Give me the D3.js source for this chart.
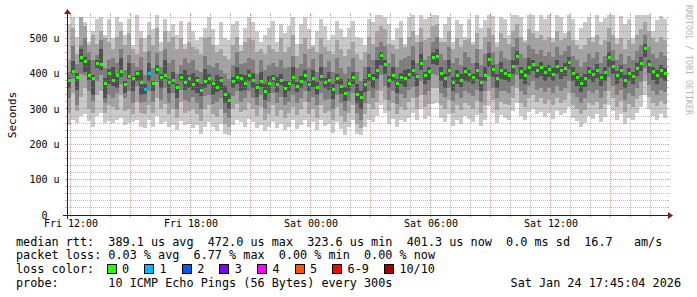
<!DOCTYPE html>
<html>
<head>
<meta charset="utf-8">
<script src="https://cdn.jsdelivr.net/npm/d3@7"></script>
<style>
  html, body { margin: 0; padding: 0; background: #fff; }
  svg { display: block; }
  text { font-family: "DejaVu Sans Mono", monospace; }
</style>
</head>
<body>
<div id="chart"></div>
<script>
// median rtt per 12 min step (us)
const med = [
  380,405,390,445,435,395,385,428,425,372,
  400,380,395,405,370,392,385,400,375,355,
  400,372,412,388,395,375,380,362,390,375,
  385,368,380,352,378,385,372,360,382,340,
  325,378,390,385,372,395,382,360,378,350,
  372,385,368,380,358,372,390,365,378,395,
  370,385,362,392,375,380,355,385,365,345,
  372,390,340,332,370,395,385,410,450,425,
  380,395,372,390,385,398,410,392,430,395,
  405,445,448,400,385,410,375,395,380,405,
  398,388,408,375,395,440,412,385,408,400,
  395,420,448,405,395,418,425,410,418,402,
  412,398,420,408,415,432,400,390,372,385,
  405,398,410,388,402,445,420,395,410,380,
  400,392,415,430,470,425,405,395,410,401
];
// smoke: sorted ping ranks (us)
const p1 = [
  255,270,260,280,285,265,250,280,290,260,
  265,260,270,275,255,260,262,270,250,245,
  270,250,280,258,262,248,255,240,265,255,
  258,245,255,230,250,262,248,238,258,228,
  225,255,268,262,250,272,262,245,255,238,
  250,262,245,258,240,250,268,242,255,270,
  248,262,240,270,252,258,232,262,242,225,
  248,268,228,225,250,270,262,280,310,290,
  258,272,250,268,262,275,288,270,300,272,
  280,315,318,275,262,285,252,270,258,280,
  272,262,282,252,270,308,288,260,282,275,
  270,295,318,280,270,292,300,285,292,278,
  288,272,295,282,290,305,275,265,250,260,
  280,272,285,262,278,312,295,270,285,258,
  275,268,290,305,340,300,280,270,285,275
];
const p2 = [
  290,345,295,335,360,300,290,340,350,290,
  310,305,298,340,295,300,285,320,290,285,
  310,290,330,300,315,285,300,275,320,290,
  295,300,285,265,300,310,285,278,300,258,
  250,300,315,292,298,318,300,280,305,270,
  285,310,280,298,275,290,305,282,300,320,
  285,300,275,310,290,295,268,305,280,262,
  290,310,258,245,285,315,300,320,350,325,
  295,318,285,305,298,320,330,300,340,305,
  315,360,360,310,300,325,290,310,298,318,
  310,300,322,290,312,350,325,298,320,315,
  310,330,360,318,305,330,340,320,330,315,
  325,310,330,318,325,345,312,300,285,298,
  318,310,320,300,315,352,330,305,322,292,
  315,305,328,340,380,335,318,308,322,315
];
const p3 = [
  330,385,310,400,395,350,322,378,395,318,
  340,330,345,372,330,352,318,365,318,320,
  350,320,375,325,360,318,345,300,355,325,
  320,335,318,300,338,340,315,320,332,290,
  275,338,350,320,330,352,330,310,340,300,
  320,345,318,335,310,320,340,318,330,352,
  320,335,312,345,325,328,300,340,318,295,
  322,345,290,270,318,352,330,355,395,365,
  325,350,315,342,330,355,362,335,380,340,
  350,398,395,345,335,360,322,345,330,352,
  345,338,355,320,350,392,360,330,352,350,
  345,365,395,352,340,365,378,355,360,348,
  360,345,365,352,360,380,345,335,318,330,
  350,345,355,332,350,390,365,340,355,325,
  345,338,360,375,415,368,350,340,355,348
];
const p4 = [
  358,398,355,432,405,382,340,415,410,330,
  372,365,360,390,345,385,350,380,340,342,
  380,350,400,360,385,345,372,330,378,355,
  360,355,345,338,360,370,340,348,355,318,
  300,360,372,350,355,378,358,335,362,325,
  345,375,348,368,335,350,372,348,360,380,
  350,362,340,378,358,355,328,370,342,322,
  352,372,318,300,348,378,360,385,425,398,
  358,380,345,372,362,385,392,365,410,372,
  382,428,425,378,360,392,350,372,362,380,
  375,370,385,350,378,420,390,360,385,382,
  375,398,425,385,370,395,408,388,392,378,
  390,378,398,385,392,412,378,365,348,362,
  385,375,388,365,380,420,398,372,388,358,
  378,370,392,408,448,402,382,372,388,380
];
const p7 = [
  388,435,402,470,448,440,395,440,470,388,
  412,420,400,445,378,430,392,408,410,370,
  430,380,425,398,440,385,405,370,398,410,
  395,402,390,372,412,398,380,395,390,365,
  345,390,420,398,395,410,402,372,405,370,
  392,395,390,400,380,380,420,375,392,410,
  380,410,375,418,388,405,372,400,385,362,
  385,405,370,350,385,418,400,440,462,440,
  392,420,385,402,410,412,440,400,455,405,
  418,460,470,420,398,440,390,410,398,420,
  410,400,430,390,420,458,425,398,432,412,
  405,440,465,420,410,445,440,422,432,418,
  425,415,440,420,430,448,418,402,390,400,
  420,410,428,400,418,462,435,408,425,395,
  415,405,430,448,485,440,420,410,425,415
];
const p8 = [
  405,478,428,482,500,460,440,452,495,415,
  440,445,430,470,410,452,430,420,448,395,
  465,415,458,420,470,430,440,398,425,445,
  430,440,410,405,450,425,418,430,410,398,
  385,425,460,428,430,445,440,400,440,410,
  425,430,420,440,415,420,450,415,428,455,
  415,442,405,455,420,435,405,445,415,398,
  420,445,405,380,420,455,440,475,490,478,
  430,455,418,440,445,450,478,430,490,438,
  450,490,505,455,440,475,430,445,425,460,
  448,430,470,425,455,490,460,428,465,445,
  440,475,500,455,445,480,470,455,468,450,
  460,448,475,452,465,478,450,438,420,432,
  455,445,462,430,450,490,468,440,455,428,
  450,440,465,480,510,475,455,445,460,450
];
const p9 = [
  440,530,455,560,535,480,510,485,520,500,
  490,470,505,520,480,515,470,455,500,460,
  510,480,530,465,520,490,505,470,500,470,
  490,475,470,455,500,505,480,460,470,450,
  440,480,505,465,490,500,495,460,470,455,
  480,470,460,500,460,475,510,450,485,500,
  470,475,460,500,475,465,455,495,470,450,
  470,490,455,440,460,505,485,520,535,525,
  485,480,470,500,475,505,520,490,530,495,
  500,535,540,490,490,520,470,500,475,495,
  498,480,515,470,505,530,510,475,515,500,
  485,520,540,505,490,525,515,500,510,495,
  505,490,520,495,500,520,495,480,470,480,
  500,490,510,480,495,530,510,485,500,470,
  495,485,510,525,545,520,500,490,505,495
];
const p10 = [
  540,560,505,560,545,490,520,555,560,510,
  555,500,560,545,510,555,480,565,520,500,
  545,525,565,490,555,520,540,510,550,485,
  545,520,495,505,530,560,525,480,545,500,
  495,540,550,480,530,560,545,520,490,510,
  530,550,490,540,515,535,560,485,540,560,
  525,480,520,555,535,495,510,550,525,505,
  530,550,505,500,480,555,545,565,565,560,
  540,495,530,550,485,560,565,510,565,555,
  560,565,565,500,540,560,490,552,540,505,
  555,490,565,530,552,565,562,490,560,555,
  510,565,565,560,495,565,565,520,565,555,
  565,500,565,560,515,565,555,495,530,545,
  560,505,565,545,558,565,565,500,562,540,
  555,500,565,565,565,565,520,552,562,555
];
// lost pings out of 10 per step
const loss = [
  0,0,0,0,0,0,0,0,0,0, 0,0,0,0,0,0,0,0,0,1,
  1,0,0,0,0,0,0,0,0,0, 0,0,0,0,0,0,0,0,0,0,
  0,0,0,0,0,0,0,0,0,0, 0,0,0,0,0,0,0,0,0,0,
  0,0,0,0,0,0,0,0,0,0, 0,0,0,0,0,0,0,0,0,0,
  0,0,0,0,0,0,0,0,0,0, 0,0,0,0,0,0,0,0,0,0,
  0,0,0,0,0,0,0,0,0,0, 0,0,0,0,0,0,0,0,0,0,
  0,0,0,0,0,0,0,0,0,0, 0,0,0,0,0,0,0,0,0,0,
  0,0,0,0,0,0,0,0,0,0
];

const yTicks = [0, 100, 200, 300, 400, 500];
const yMax = 566;
const lossLabels = ["0", "1", "2", "3", "4", "5", "6-9", "10/10"];
const lossColors = ["#26ff00", "#00b8ff", "#0059ff", "#7e00ff", "#ff00ff", "#ff5500", "#ff0000", "#a10000"];
const legendLines = [
  "median rtt:  389.1 us avg  472.0 us max  323.6 us min  401.3 us now  0.0 ms sd  16.7   am/s",
  "packet loss: 0.03 % avg  6.77 % max  0.00 % min  0.00 % now",
  "loss color:",
  "probe:       10 ICMP Echo Pings (56 Bytes) every 300s"
];
const stamp = "Sat Jan 24 17:45:04 2026";

const width = 697, height = 297;
const plot = { left: 67, right: 667, top: 15, bottom: 215 };
const start = new Date(2026, 0, 23, 11, 49, 30);
const end = new Date(2026, 0, 24, 17, 49, 30);
const n = med.length;
const stepMs = (end - start) / n;
const t = i => new Date(+start + i * stepMs);

const svg = d3.select("#chart").append("svg")
  .attr("width", width)
  .attr("height", height);

svg.append("rect").attr("width", width).attr("height", height).attr("fill", "#fff");

const x = d3.scaleTime().domain([start, end]).range([plot.left, plot.right]);
const y = d3.scaleLinear().domain([0, yMax]).range([plot.bottom, plot.top]);

svg.append("defs").append("clipPath").attr("id", "clip")
  .append("rect")
  .attr("x", plot.left).attr("y", plot.top)
  .attr("width", plot.right - plot.left).attr("height", plot.bottom - plot.top);

// smoke bands, outer to inner
const bands = [
  { lo: p1, hi: p10, color: "#cacaca" },
  { lo: p2, hi: p9, color: "#a4a4a4" },
  { lo: p3, hi: p8, color: "#7e7e7e" },
  { lo: p4, hi: p7, color: "#505050" }
];

const smoke = svg.append("g").attr("clip-path", "url(#clip)").attr("shape-rendering", "crispEdges");
bands.forEach(b => {
  smoke.append("g")
    .selectAll("rect")
    .data(d3.range(n))
    .join("rect")
    .attr("x", i => x(t(i)))
    .attr("width", i => x(t(i + 1)) - x(t(i)))
    .attr("y", i => y(b.hi[i]))
    .attr("height", i => y(b.lo[i]) - y(b.hi[i]))
    .attr("fill", b.color);
});

function lossIndex(l) {
  if (l <= 5) return l;
  if (l < 10) return 6;
  return 7;
}

// median markers coloured by loss
smoke.append("g")
  .selectAll("rect")
  .data(d3.range(n))
  .join("rect")
  .attr("x", i => x(t(i)) + 0.5)
  .attr("width", i => x(t(i + 1)) - x(t(i)) - 1)
  .attr("y", i => y(med[i]) - 1.5)
  .attr("height", 3)
  .attr("fill", i => lossColors[lossIndex(loss[i])]);

// grid on top of the data, rrdtool style
const px = v => Math.round(v - 0.5) + 0.5;
const minorCol = "rgba(143,143,143,0.6)";
const majorCol = "rgba(222,79,79,0.6)";
const grid = svg.append("g").attr("shape-rendering", "crispEdges");

const hMinor = d3.range(20, yMax, 20).filter(v => v % 100 !== 0);
const hMajor = yTicks.filter(v => v > 0);
const vMinor = x.ticks(d3.timeHour.every(1)).filter(d => d.getHours() % 3 !== 0);
const vMajor = x.ticks(d3.timeHour.every(3));

function hLines(vals, col) {
  grid.append("g").selectAll("line").data(vals).join("line")
    .attr("x1", plot.left).attr("x2", plot.right)
    .attr("y1", d => px(y(d))).attr("y2", d => px(y(d)))
    .attr("stroke", col).attr("stroke-dasharray", "1,1");
  grid.append("g").selectAll("path").data(vals).join("path")
    .attr("d", d => `M${plot.left - 2},${px(y(d))}H${plot.left}M${plot.right},${px(y(d))}H${plot.right + 2}`)
    .attr("stroke", col);
}
function vLines(vals, col) {
  grid.append("g").selectAll("line").data(vals).join("line")
    .attr("y1", plot.top).attr("y2", plot.bottom)
    .attr("x1", d => px(x(d))).attr("x2", d => px(x(d)))
    .attr("stroke", col).attr("stroke-dasharray", "1,1");
  grid.append("g").selectAll("path").data(vals).join("path")
    .attr("d", d => `M${px(x(d))},${plot.bottom}V${plot.bottom + 2}M${px(x(d))},${plot.top - 2}V${plot.top}`)
    .attr("stroke", col);
}
hLines(hMinor, minorCol);
vLines(vMinor, minorCol);
hLines(hMajor, majorCol);
vLines(vMajor, majorCol);

// axis lines and arrows
const axisCol = "#202020";
const arrowCol = "#801e1e";
svg.append("path")
  .attr("d", `M${plot.left - 4},${plot.bottom + 0.5}H${plot.right + 1}M${plot.left + 0.5},${plot.bottom + 4}V${plot.top - 1}`)
  .attr("stroke", axisCol).attr("fill", "none").attr("shape-rendering", "crispEdges");
svg.append("path")
  .attr("d", `M${plot.right + 1},${plot.bottom - 3}L${plot.right + 6},${plot.bottom + 0.5}L${plot.right + 1},${plot.bottom + 4}Z`)
  .attr("fill", arrowCol);
svg.append("path")
  .attr("d", `M${plot.left - 3},${plot.top - 1}L${plot.left + 0.5},${plot.top - 6}L${plot.left + 4},${plot.top - 1}Z`)
  .attr("fill", arrowCol);

// axis labels
const xAxis = svg.append("g")
  .attr("transform", `translate(0,${plot.bottom})`)
  .call(d3.axisBottom(x)
    .ticks(d3.timeHour.every(6))
    .tickFormat(d3.timeFormat("%a %H:%M"))
    .tickSize(0)
    .tickPadding(5));
xAxis.select(".domain").remove();
xAxis.selectAll("text")
  .attr("font-family", "DejaVu Sans Mono")
  .attr("font-size", "10px")
  .attr("fill", "#000");

const yAxis = svg.append("g")
  .attr("transform", `translate(59.5,0)`)
  .call(d3.axisLeft(y)
    .tickValues(yTicks)
    .tickFormat(v => v === 0 ? "0" : `${v} u`)
    .tickSize(0)
    .tickPadding(0));
yAxis.select(".domain").remove();
yAxis.selectAll("text")
  .attr("font-family", "DejaVu Sans Mono")
  .attr("font-size", "10px")
  .attr("fill", "#000");
yAxis.selectAll(".tick text").filter(d => d === 0).attr("dx", -12);

// vertical unit label
svg.append("text")
  .attr("transform", `translate(15.5,${(plot.top + plot.bottom) / 2}) rotate(-90)`)
  .attr("text-anchor", "middle")
  .attr("font-size", "11px")
  .attr("fill", "#000")
  .text("Seconds");

// watermark
svg.append("text")
  .attr("transform", "translate(686,5) rotate(90)")
  .attr("font-size", "8.3px")
  .attr("fill", "#b4b4b4")
  .text("RRDTOOL / TOBI OETIKER");

// legend
const legendY = [245.5, 259.3, 273.1, 286.9];
const legendX = 16;
const charW = 7.1;
svg.append("g").selectAll("text")
  .data(legendLines)
  .join("text")
  .attr("x", legendX)
  .attr("y", (d, i) => legendY[i])
  .attr("font-size", "11.8px")
  .attr("fill", "#000")
  .attr("xml:space", "preserve")
  .style("white-space", "pre")
  .text(d => d);

svg.append("text")
  .attr("x", 681)
  .attr("y", legendY[3])
  .attr("text-anchor", "end")
  .attr("font-size", "11.8px")
  .attr("fill", "#000")
  .text(stamp);

let bx = 106.5;
const lossLegend = svg.append("g");
lossLabels.forEach((lab, i) => {
  lossLegend.append("rect")
    .attr("x", Math.round(bx) + 0.5)
    .attr("y", legendY[2] - 8.6)
    .attr("width", 9)
    .attr("height", 9)
    .attr("fill", lossColors[i])
    .attr("stroke", "#000")
    .attr("shape-rendering", "crispEdges");
  lossLegend.append("text")
    .attr("x", bx + 15.5)
    .attr("y", legendY[2])
    .attr("font-size", "11.8px")
    .attr("fill", "#000")
    .text(lab);
  bx += 15.5 + lab.length * charW + 15;
});
</script>
</body>
</html>
